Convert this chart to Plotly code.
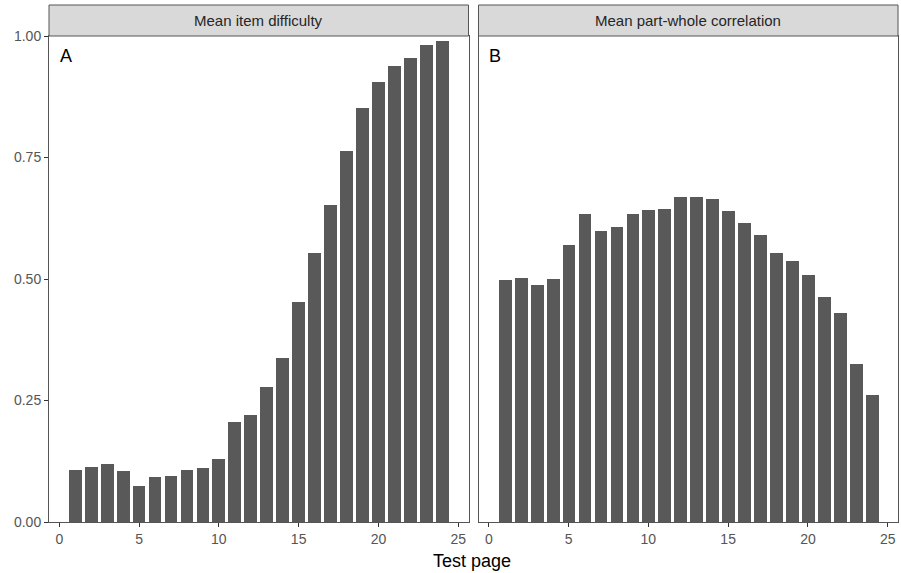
import plotly.graph_objects as go
from plotly.subplots import make_subplots

pages = list(range(1, 25))
difficulty = [0.107, 0.114, 0.120, 0.104, 0.074, 0.093, 0.095, 0.106, 0.112, 0.130,
              0.205, 0.221, 0.277, 0.338, 0.452, 0.554, 0.652, 0.763, 0.851, 0.906,
              0.939, 0.955, 0.981, 0.990]
part_whole = [0.498, 0.503, 0.487, 0.500, 0.569, 0.634, 0.599, 0.607, 0.634, 0.641,
              0.644, 0.668, 0.668, 0.665, 0.639, 0.615, 0.591, 0.553, 0.538, 0.508,
              0.464, 0.431, 0.326, 0.261]
panel_titles = ["Mean item difficulty", "Mean part-whole correlation"]
panel_tags = ["A", "B"]
x_ticks = [0, 5, 10, 15, 20, 25]
y_ticks = [0.0, 0.25, 0.5, 0.75, 1.0]
y_ticktext = ["0.00", "0.25", "0.50", "0.75", "1.00"]

W, H = 901, 573
ML, MR, MT, MB = 49, 3, 36, 51
PW = W - ML - MR
PH = H - MT - MB
FONT = "Liberation Sans, Arial, sans-serif"

fig = make_subplots(rows=1, cols=2, shared_yaxes=True, horizontal_spacing=10 / PW)

bar_color = "#595959"
for i, vals in enumerate([difficulty, part_whole]):
    fig.add_trace(go.Bar(x=pages, y=vals, width=0.8, marker=dict(color=bar_color, line=dict(width=0)),
                         showlegend=False), row=1, col=i + 1)

axis_common = dict(showgrid=False, zeroline=False, showline=True, linecolor="#555555", linewidth=1,
                   mirror=True, ticks="outside", ticklen=4, tickcolor="#333333", tickwidth=1,
                   tickfont=dict(family=FONT, size=14, color="#555555"))

for c in [1, 2]:
    fig.update_xaxes(range=[-0.645, 25.645], tickvals=x_ticks, row=1, col=c, **axis_common)
    fig.update_yaxes(range=[0, 1.0], tickvals=y_ticks, ticktext=y_ticktext, row=1, col=c, **axis_common)
fig.update_yaxes(showticklabels=False, ticks="", row=1, col=2)

strip_h = 31 / PH
for i, (xd, yd) in enumerate([("x domain", "y domain"), ("x2 domain", "y2 domain")]):
    fig.add_shape(type="rect", xref=xd, yref="paper", x0=0, x1=1, y0=1, y1=1 + strip_h,
                  fillcolor="#d9d9d9", line=dict(color="#555555", width=1), layer="above")
    fig.add_annotation(xref=xd, yref="paper", x=0.5, y=1 + strip_h / 2, text=panel_titles[i],
                       showarrow=False, xanchor="center", yanchor="middle",
                       font=dict(family=FONT, size=15, color="#262626"))
    fig.add_annotation(xref=xd, yref=yd, x=9 / 420, y=1 - 8 / PH, text=panel_tags[i],
                       showarrow=False, xanchor="left", yanchor="top",
                       font=dict(family=FONT, size=18, color="#000000"))

fig.add_annotation(xref="paper", yref="paper", x=0.498, y=-39 / PH, text="Test page", showarrow=False,
                   xanchor="center", yanchor="middle",
                   font=dict(family=FONT, size=18, color="#000000"))

fig.update_layout(width=W, height=H, margin=dict(l=ML, r=MR, t=MT, b=MB),
                  paper_bgcolor="white", plot_bgcolor="white", bargap=0)

fig.write_html("out.html", config={"displayModeBar": False},
               post_script="document.body.style.margin='0';document.body.style.overflow='hidden';")
